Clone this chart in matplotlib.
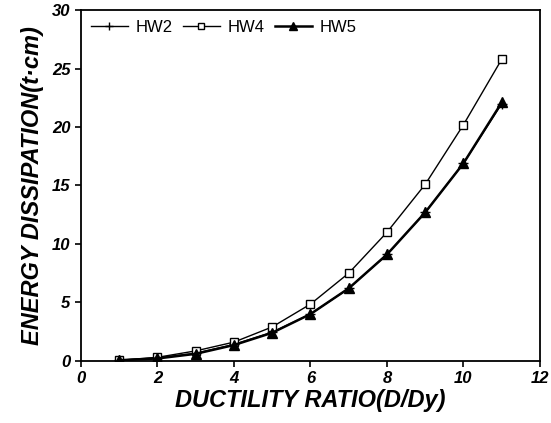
import numpy as np
import matplotlib.pyplot as plt

plt.rcParams['font.family'] = ['Liberation Sans', 'DejaVu Sans']

# Ductility ratio vs. energy dissipation
ductility = [1, 2, 3, 4, 5, 6, 7, 8, 9, 10, 11]
hw2 = [0.05, 0.25, 0.65, 1.4, 2.45, 4.0, 6.2, 9.1, 12.7, 16.9, 22.0]
hw4 = [0.05, 0.3, 0.85, 1.6, 2.9, 4.85, 7.5, 11.0, 15.1, 20.2, 25.8]
hw5 = [0.05, 0.2, 0.6, 1.35, 2.4, 4.0, 6.2, 9.1, 12.7, 16.9, 22.1]

fig = plt.figure(figsize=(5.51, 4.23), dpi=100)
ax = fig.add_axes([0.147, 0.147, 0.833, 0.829])

ax.plot(ductility, hw2, color='black', lw=1.0, marker='+', ms=7, mew=1.0, label='HW2')
ax.plot(ductility, hw4, color='black', lw=1.0, marker='s', ms=5.5, mfc='white', mew=1.0, label='HW4')
ax.plot(ductility, hw5, color='black', lw=1.8, marker='^', ms=7, label='HW5')

ax.set_xlim(0, 12)
ax.set_ylim(0, 30)
ax.set_xticks(np.arange(0, 13, 2))
ax.set_yticks(np.arange(0, 31, 5))
ax.tick_params(direction='out', length=4, width=1.2, labelsize=12)
for lbl in ax.get_xticklabels() + ax.get_yticklabels():
    lbl.set_fontweight('bold')
    lbl.set_fontstyle('italic')
for s in ax.spines.values():
    s.set_linewidth(1.3)

ax.set_xlabel('DUCTILITY RATIO(D/Dy)', fontsize=17, fontweight='bold', fontstyle='italic', labelpad=2)
ax.set_ylabel('ENERGY DISSIPATION(t·cm)', fontsize=17, fontweight='bold', fontstyle='italic', labelpad=6)

ax.legend(loc='upper left', ncol=3, frameon=False, fontsize=12, handlelength=2.2,
          handletextpad=0.5, columnspacing=0.6, borderaxespad=0.2, markerscale=0.8)

fig.savefig('out.png', dpi=100)
